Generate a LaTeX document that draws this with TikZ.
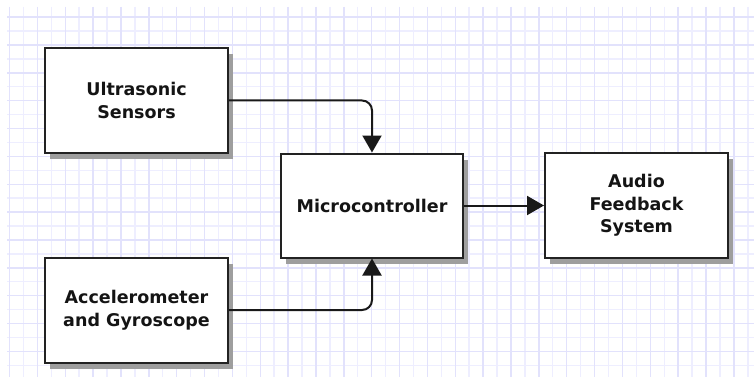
\documentclass[tikz,border=0pt]{standalone}
\usepackage{fontspec}
\setmainfont{DejaVu Sans}
\usetikzlibrary{arrows.meta,shadows}
\definecolor{gridminor}{RGB}{238,238,255}
\definecolor{gridmajor}{RGB}{226,226,252}
\definecolor{boxline}{RGB}{34,34,34}
\begin{document}
\begin{tikzpicture}[x=1pt,y=-1pt,
  block/.style={draw=boxline,line width=2pt,fill=white,minimum width=183pt,minimum height=105pt,inner sep=0pt,
    align=center,font=\fontsize{17.5}{22.5}\selectfont\bfseries,text=black!92,
    drop shadow={shadow xshift=5pt,shadow yshift=-6pt,fill=black!38,opacity=1}},
  conn/.style={line width=2pt,draw=black!90,rounded corners=10pt,-{Triangle[width=19pt,length=17pt]}},
  gminor/.style={draw=gridminor,line width=1.4pt},
  gmajor/.style={draw=gridmajor,line width=1.4pt}]
\useasboundingbox (0,0) rectangle (754,377);
\fill[white] (0,0) rectangle (754,377);
% grid
\foreach \i in {0,...,53} {
  \pgfmathsetmacro{\xx}{9.5+13.93*\i}
  \ifodd\i \draw[gminor] (\xx,7) -- (\xx,377); \fi
}
\foreach \i in {0,...,25} {
  \pgfmathsetmacro{\yy}{17.1+13.93*\i}
  \ifodd\i \draw[gminor] (7,\yy) -- (754,\yy); \fi
}
\foreach \i in {0,...,53} {
  \pgfmathsetmacro{\xx}{9.5+13.93*\i}
  \ifodd\i\else \draw[gmajor] (\xx,7) -- (\xx,377); \fi
}
\foreach \i in {0,...,25} {
  \pgfmathsetmacro{\yy}{17.1+13.93*\i}
  \ifodd\i\else \draw[gmajor] (7,\yy) -- (754,\yy); \fi
}
% blocks
\node[block] (us) at (136.5,100.5) {Ultrasonic\\Sensors};
\node[block] (ag) at (136.5,310) {Accelerometer\\and Gyroscope};
\node[block,minimum width=182pt,minimum height=104pt] (mc) at (372,205.5) {Microcontroller};
\node[block] (af) at (636.5,205.5) {Audio\\Feedback\\System};
% connectors
\draw[conn] (us.east) -| (mc.north);
\draw[conn] (ag.east) -| (mc.south);
\draw[conn] (mc.east) -- (af.west);
\end{tikzpicture}
\end{document}
